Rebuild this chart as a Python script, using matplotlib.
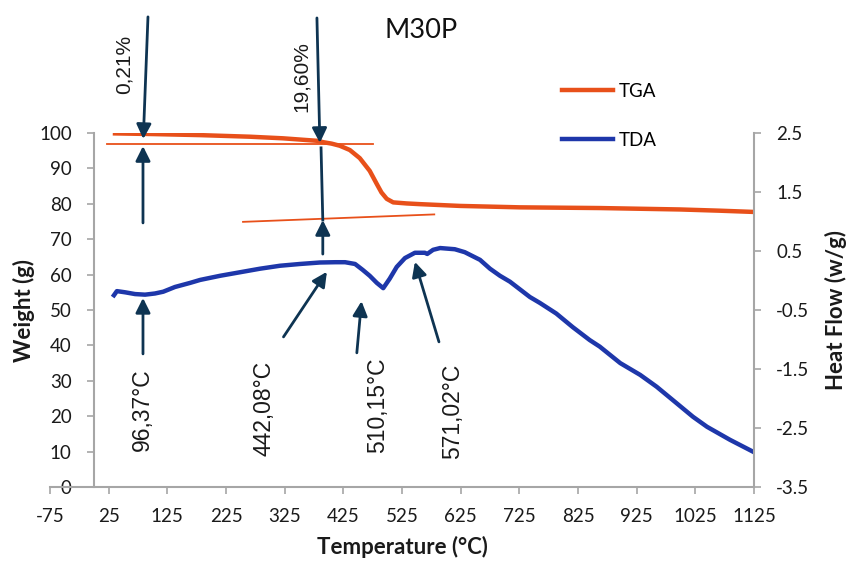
import matplotlib.pyplot as plt
from matplotlib.lines import Line2D

# TGA curve (weight, left axis)
tga_temp = [32, 100, 181, 266, 322, 380, 391, 405, 419, 436, 453, 470, 482, 490, 499, 510,
            533, 556, 624, 726, 862, 999, 1067, 1125]
tga_weight = [99.9, 99.7, 99.4, 98.95, 98.5, 97.8, 97.4, 97.0, 96.4, 95.2, 92.9, 89.3, 85.6,
              83.2, 81.4, 80.4, 80.1, 79.9, 79.4, 79.0, 78.8, 78.4, 78.05, 77.7]

# DTA curve (heat flow, right axis)
dta_temp = [34, 39, 53, 70, 87, 104, 118, 138, 164, 181, 215, 249, 283, 317, 351, 385, 411,
            428, 445, 458, 470, 482, 493, 504, 516, 530, 547, 564, 568, 578, 590, 615, 632,
            658, 675, 692, 709, 743, 760, 788, 816, 845, 862, 897, 931, 959, 987, 1021,
            1045, 1084, 1125]
heat_flow = [-0.25, -0.18, -0.20, -0.23, -0.24, -0.22, -0.19, -0.11, -0.04, 0.01, 0.08,
             0.14, 0.20, 0.25, 0.28, 0.305, 0.31, 0.31, 0.28, 0.18, 0.08, -0.04, -0.13,
             0.03, 0.23, 0.38, 0.47, 0.47, 0.45, 0.52, 0.55, 0.53, 0.48, 0.35, 0.20, 0.08,
             -0.02, -0.28, -0.38, -0.56, -0.79, -1.01, -1.12, -1.40, -1.60, -1.80, -2.03,
             -2.31, -2.48, -2.70, -2.91]

# tangent lines on the TGA curve
tan1_temp, tan1_weight = [22, 476], [96.8, 96.8]
tan2_temp, tan2_weight = [254, 580], [74.9, 77.0]

orange = '#E8501A'
blue = '#1E37AA'
navy = '#0E3452'
grey = '#A6A6A6'
dark = '#1a1a1a'

plt.rcParams['font.family'] = ['Lato', 'DejaVu Sans']
plt.rcParams['axes.unicode_minus'] = False

fig = plt.figure(figsize=(8.55, 5.62), dpi=100)
ax = fig.add_axes([50 / 855, 1 - 487 / 562, 704 / 855, 354 / 562])
ax2 = ax.twinx()

ax.plot(tga_temp, tga_weight, color=orange, lw=3.2, label='TGA', solid_capstyle='butt')
ax.plot(tan1_temp, tan1_weight, color=orange, lw=1.3)
ax.plot(tan2_temp, tan2_weight, color=orange, lw=1.3)
ax2.plot(dta_temp, heat_flow, color=blue, lw=3.2, label='TDA')

ax.set_xlim(-75, 1125)
ax.set_ylim(0, 100)
ax2.set_ylim(-3.5, 2.5)
ax.set_xticks(range(-75, 1126, 100))
ax.set_yticks(range(0, 101, 10))
ax2.set_yticks([-3.5, -2.5, -1.5, -0.5, 0.5, 1.5, 2.5])

for a in (ax, ax2):
    for s in a.spines.values():
        s.set_visible(False)
    a.tick_params(colors=grey, labelcolor=dark, labelsize=13.5, length=5, width=1.2)
ax.spines['bottom'].set_visible(True)
ax.spines['left'].set_visible(True)
ax.spines['left'].set_position(('data', 0))
ax2.spines['right'].set_visible(True)
for s in (ax.spines['bottom'], ax.spines['left'], ax2.spines['right']):
    s.set_color(grey)
    s.set_linewidth(1.5)
ax.tick_params(axis='y', pad=11)
ax.tick_params(axis='x', pad=10)
ax2.tick_params(axis='y', pad=11)

ax.set_xlabel('Temperature (°C)', fontsize=16, fontweight='bold', color=dark, labelpad=8)
fig.text(24 / 855, 1 - 310 / 562, 'Weight (g)', rotation=90, fontsize=16, fontweight='bold',
         color=dark, ha='center', va='center')
fig.text(836 / 855, 1 - 310 / 562, 'Heat Flow (w/g)', rotation=90, fontsize=16,
         fontweight='bold', color=dark, ha='center', va='center')
fig.text(421 / 855, 1 - 30 / 562, 'M30P', fontsize=19.5, ha='center', va='center', color='#111111')

handles = [Line2D([], [], color=orange, lw=3.2), Line2D([], [], color=blue, lw=3.2)]
fig.legend(handles, ['TGA', 'TDA'], loc='upper left', bbox_to_anchor=(545 / 855, 1 - 66 / 562),
           frameon=False, fontsize=13.5, handlelength=2.7, handletextpad=0.35, labelspacing=1.7)

# arrows: (start temp, start weight, tip temp, tip weight)
arrows = [
    (92, 132.8, 84, 98.3),
    (83.5, 74.6, 83.5, 96.3),
    (380, 132.5, 385, 97.2),
    (390, 65.8, 390, 75.4),
    (83.5, 37.6, 83.5, 53.4),
    (323, 42.4, 397, 60.8),
    (448, 37.9, 456, 52.5),
    (588, 41.0, 547, 63.6),
]
for x0, y0, x1, y1 in arrows:
    ax.annotate('', xy=(x1, y1), xytext=(x0, y0), annotation_clip=False,
                arrowprops=dict(arrowstyle='-|>', color=navy, lw=2, mutation_scale=22,
                                shrinkA=0, shrinkB=0))
ax.plot([387, 390], [95.8, 75.4], color=navy, lw=2)

labels = [
    (51, 119.5, '0,21%', 15),
    (353, 116, '19,60%', 15),
    (83, 21.7, '96,37°C', 16.5),
    (290, 22.2, '442,08°C', 16.5),
    (483, 23.2, '510,15°C', 16.5),
    (612, 21.5, '571,02°C', 16.5),
]
for x, y, s, fs in labels:
    ax.text(x, y, s, rotation=90, ha='center', va='center', fontsize=fs,
            family='Liberation Sans', color=dark, clip_on=False)

fig.savefig('out.png', dpi=100)
